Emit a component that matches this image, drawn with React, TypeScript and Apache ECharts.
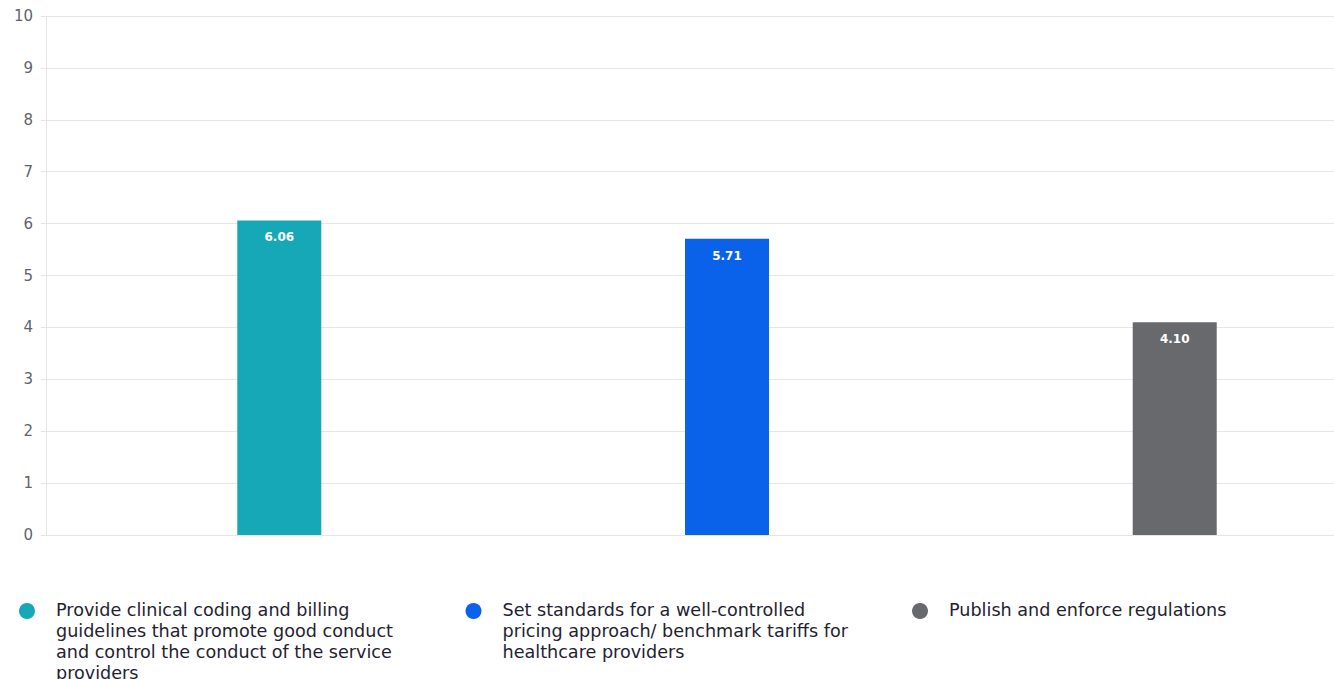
import React, { useEffect, useRef } from "react";
import * as echarts from "echarts";

const seriesNames = [
  "Provide clinical coding and billing guidelines that promote good conduct and control the conduct of the service providers",
  "Set standards for a well-controlled pricing approach/ benchmark tariffs for healthcare providers",
  "Publish and enforce regulations",
];
const seriesValues = [6.06, 5.71, 4.1];
const seriesColors = ["#17A8B8", "#0A62EA", "#67696D"];
const categories = [""];
const yMin = 0;
const yMax = 10;
const yInterval = 1;

const FONT = "DejaVu Sans";

export default function App() {
  const ref = useRef<HTMLDivElement>(null);
  useEffect(() => {
    if (!ref.current) return;
    const chart = echarts.init(ref.current, undefined, { renderer: "svg" });
    const legendGraphics = seriesNames.map((name, i) => ({
      type: "group",
      left: 19 + i * 446.5,
      top: 599,
      children: [
        {
          type: "circle",
          shape: { cx: 8, cy: 8, r: 8 },
          style: { fill: seriesColors[i] },
        },
        {
          type: "text",
          x: 37,
          y: -4,
          style: {
            text: name,
            width: 355,
            overflow: "break",
            lineHeight: 21,
            font: `17.6px '${FONT}'`,
            fill: "#1f2233",
            verticalAlign: "top",
          },
        },
      ],
    }));
    chart.setOption({
      animation: false,
      textStyle: { fontFamily: FONT },
      grid: { left: 46, top: 16, right: 0, height: 519, containLabel: false },
      xAxis: {
        type: "category",
        data: categories,
        axisLine: { show: true, lineStyle: { color: "#e6e6e6" } },
        axisTick: { show: false },
        axisLabel: { show: false },
      },
      yAxis: {
        type: "value",
        min: yMin,
        max: yMax,
        interval: yInterval,
        axisLine: { show: true, lineStyle: { color: "#e6e6e6" } },
        axisTick: { show: true, length: 5, lineStyle: { color: "#e6e6e6" } },
        splitLine: { show: true, lineStyle: { color: "#e6e6e6" } },
        axisLabel: { color: "#5f636e", fontSize: 15, margin: 13, fontFamily: FONT },
      },
      series: seriesNames.map((name, i) => ({
        type: "bar",
        name,
        data: [seriesValues[i]],
        barWidth: 84,
        barGap: "433%",
        itemStyle: { color: seriesColors[i] },
        label: {
          show: true,
          position: "insideTop",
          distance: 11,
          color: "#ffffff",
          fontWeight: "bold",
          fontSize: 12,
          fontFamily: FONT,
          formatter: (p: any) => Number(p.value).toFixed(2),
        },
      })),
      graphic: legendGraphics,
    });
    return () => chart.dispose();
  }, []);
  return (
    <div
      ref={ref}
      style={{ position: "fixed", left: 0, top: 0, width: 1408, height: 679, background: "#fff" }}
    />
  );
}
